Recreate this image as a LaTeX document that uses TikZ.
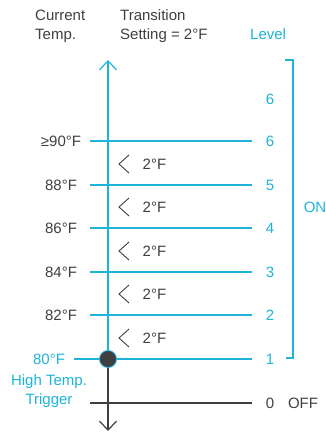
\documentclass[tikz,border=0pt]{standalone}
\usepackage{fontspec}
\setmainfont{Liberation Sans}
\usetikzlibrary{arrows.meta}
\definecolor{cy}{HTML}{1DB4DA}
\definecolor{dk}{HTML}{3F3F41}
\begin{document}
\begin{tikzpicture}[x=1pt,y=-1pt,
  font=\fontsize{15}{18.5}\selectfont,
  cyline/.style={draw=cy, line width=1.4pt},
  dkline/.style={draw=dk, line width=1.2pt},
  chev/.style={draw=dk, line width=0.9pt},
  dklab/.style={text=dk, inner sep=0pt},
  cylab/.style={text=cy, inner sep=0pt},
  barb/.style={-{Straight Barb[length=9pt,width=17pt,line width=1.2pt]}}
]
\useasboundingbox (0,0) rectangle (326,432);

% header
\node[dklab, anchor=base west, align=left] (hcur) at (35,39.2) {Current\\Temp.};
\node[dklab, anchor=base west, align=left] (htr) at (120,39.2) {Transition\\Setting = 2°F};
\node[cylab, anchor=base west] (hlev) at (250,39.2) {Level};

% horizontal level lines
\foreach \n/\y in {6/141,5/185,4/228,3/272,2/315}{
  \coordinate (l\n a) at (90,\y);
  \coordinate (l\n b) at (252,\y);
  \draw[cyline] (l\n a) -- (l\n b);
  \node[cylab] (lv\n) at (270,\y) {\n};
}
\coordinate (l1a) at (74,359);
\coordinate (l1b) at (252,359);
\draw[cyline] (l1a) -- (l1b);
\node[cylab] (lv1) at (270,359) {1};
\coordinate (l0a) at (90,403);
\coordinate (l0b) at (252,403);
\draw[dkline] (l0a) -- (l0b);
\node[dklab] (lv0) at (270,403) {0};
\node[dklab] (off) at (303,403) {OFF};
\node[cylab] (lvtop) at (270,99) {6};

% temperature labels
\node[dklab] (t90) at (61,141) {≥90°F};
\node[dklab] (t88) at (61,185) {88°F};
\node[dklab] (t86) at (61,228) {86°F};
\node[dklab] (t84) at (61,272) {84°F};
\node[dklab] (t82) at (61,315) {82°F};
\node[cylab] (t80) at (49,359) {80°F};
\node[cylab, anchor=base, align=center] (trg) at (49,404) {High Temp.\\Trigger};

% transition steps
\foreach \y [count=\i] in {164,207,251,294,338}{
  \draw[chev] (129,\y-9) -- (119,\y) -- (129,\y+9);
  \node[dklab] (s\i) at (154.5,\y) {2°F};
}

% bracket
\coordinate (bt) at (285,60);
\coordinate (bb) at (286,358);
\draw[cyline] (bt) -- (293,60) -- (293,358) -- (bb);
\node[cylab] (on) at (315,207) {ON};

% axis
\coordinate (top) at (108,60);
\coordinate (bot) at (108,431);
\coordinate (trc) at (108,359);
\draw[cyline, barb] (trc) -- (top);
\draw[dkline, barb] (trc) -- (bot);
\node[circle, fill=dk, draw=cy, line width=0.8pt, minimum size=17pt, inner sep=0pt] (trig) at (trc) {};
\end{tikzpicture}
\end{document}
